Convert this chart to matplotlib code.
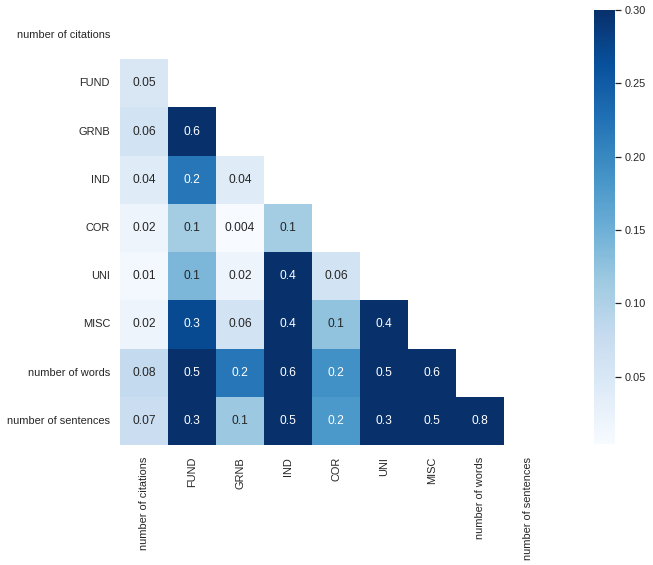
import numpy as np
import pandas as pd
import seaborn as sns
from matplotlib import pyplot as plt

labels = ['number of citations', 'FUND', 'GRNB', 'IND', 'COR', 'UNI', 'MISC',
          'number of words', 'number of sentences']

# lower triangle of the correlation matrix, one row per variable (below diagonal)
lower = [
    [],
    [0.05],
    [0.06, 0.6],
    [0.04, 0.22, 0.04],
    [0.02, 0.11, 0.004, 0.11],
    [0.01, 0.14, 0.02, 0.4, 0.06],
    [0.02, 0.27, 0.06, 0.4, 0.125, 0.4],
    [0.08, 0.5, 0.22, 0.6, 0.19, 0.5, 0.6],
    [0.07, 0.32, 0.117, 0.5, 0.18, 0.31, 0.5, 0.8],
]

n = len(labels)
corr = np.eye(n)
for i, row in enumerate(lower):
    for j, v in enumerate(row):
        corr[i, j] = v
        corr[j, i] = v
corr = pd.DataFrame(corr, index=labels, columns=labels)

sns.set_theme(style='white')
plt.rcParams['font.family'] = ['Liberation Sans', 'DejaVu Sans']

f = plt.figure(figsize=(653 / 72, 565 / 72), dpi=72)
ax = f.add_axes([120 / 653, 1 - 445 / 565, 432 / 653, 434 / 565])
cax = f.add_axes([594 / 653, 1 - 444 / 565, 21 / 653, 434 / 565])

mask = np.triu(np.ones_like(corr, dtype=bool))
sns.heatmap(corr, mask=mask, cmap='Blues', vmax=0.3, annot=True, fmt='.1g',
            ax=ax, cbar_ax=cax)
ax.set_xticklabels(labels, rotation=90)
ax.set_yticklabels(labels, rotation=0)
ax.tick_params(axis='y', length=0, pad=10)
ax.tick_params(axis='x', length=0, pad=12)

f.savefig('out.png', dpi=72)
